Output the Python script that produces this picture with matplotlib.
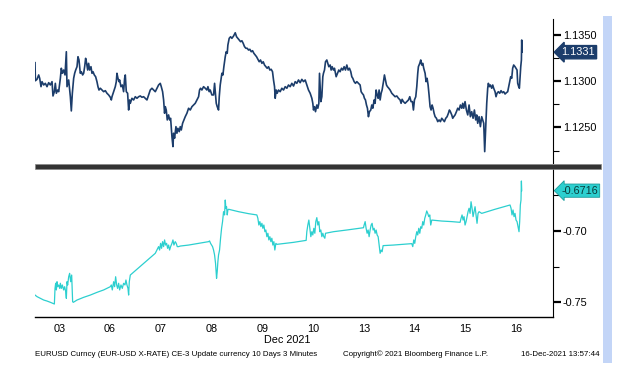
import numpy as np
import matplotlib
matplotlib.use("Agg")
import matplotlib.pyplot as plt
from matplotlib.patches import Rectangle
from matplotlib.ticker import FixedLocator

# x = trading-day position (tick k sits on day label k), weekends removed
day_labels = ['03', '06', '07', '08', '09', '10', '13', '14', '15', '16']

eur_t = [-0.479, -0.472, -0.440, -0.407, -0.387, -0.361, -0.341, -0.308, -0.276, -0.243,
         -0.210, -0.177, -0.144, -0.125, -0.098, -0.079, -0.059, -0.033, -0.013, 0.020,
         0.039, 0.059, 0.085, 0.112, 0.138, 0.151, 0.184, 0.217, 0.236, 0.256,
         0.282, 0.302, 0.322, 0.348, 0.367, 0.387, 0.413, 0.433, 0.459, 0.479,
         0.499, 0.518, 0.538, 0.558, 0.577, 0.597, 0.623, 0.643, 0.663, 0.689,
         0.715, 0.741, 0.761, 0.781, 0.807, 0.840, 0.873, 0.906, 0.938, 0.971,
         1.004, 1.024, 1.037, 1.070, 1.102, 1.122, 1.135, 1.155, 1.175, 1.188,
         1.214, 1.240, 1.266, 1.286, 1.299, 1.319, 1.345, 1.365, 1.385, 1.398,
         1.430, 1.463, 1.496, 1.529, 1.562, 1.594, 1.627, 1.660, 1.693, 1.726,
         1.759, 1.791, 1.824, 1.857, 1.890, 1.923, 1.955, 1.988, 2.008, 2.034,
         2.054, 2.073, 2.087, 2.106, 2.126, 2.152, 2.172, 2.192, 2.218, 2.238,
         2.251, 2.270, 2.297, 2.316, 2.336, 2.362, 2.382, 2.402, 2.428, 2.454,
         2.480, 2.513, 2.546, 2.579, 2.612, 2.644, 2.677, 2.710, 2.743, 2.762,
         2.782, 2.808, 2.841, 2.874, 2.907, 2.927, 2.953, 2.972, 3.005, 3.038,
         3.058, 3.071, 3.091, 3.110, 3.136, 3.150, 3.169, 3.189, 3.202, 3.222,
         3.241, 3.268, 3.287, 3.307, 3.320, 3.346, 3.373, 3.399, 3.432, 3.465,
         3.491, 3.517, 3.543, 3.570, 3.596, 3.622, 3.648, 3.675, 3.701, 3.727,
         3.753, 3.780, 3.806, 3.832, 3.858, 3.885, 3.911, 3.937, 3.963, 3.990,
         4.016, 4.042, 4.068, 4.094, 4.121, 4.147, 4.173, 4.199, 4.219, 4.239,
         4.252, 4.272, 4.291, 4.318, 4.350, 4.383, 4.416, 4.449, 4.482, 4.514,
         4.547, 4.580, 4.613, 4.646, 4.678, 4.711, 4.744, 4.777, 4.810, 4.843,
         4.875, 4.908, 4.941, 4.974, 4.993, 5.007, 5.026, 5.046, 5.072, 5.092,
         5.112, 5.125, 5.138, 5.151, 5.171, 5.190, 5.203, 5.223, 5.243, 5.269,
         5.289, 5.308, 5.335, 5.354, 5.374, 5.400, 5.420, 5.440, 5.453, 5.479,
         5.505, 5.531, 5.558, 5.584, 5.610, 5.636, 5.663, 5.689, 5.715, 5.741,
         5.761, 5.781, 5.807, 5.833, 5.860, 5.892, 5.925, 5.945, 5.965, 5.991,
         6.010, 6.030, 6.050, 6.069, 6.089, 6.109, 6.135, 6.155, 6.175, 6.201,
         6.220, 6.240, 6.260, 6.280, 6.299, 6.319, 6.339, 6.358, 6.385, 6.404,
         6.424, 6.444, 6.463, 6.490, 6.516, 6.549, 6.581, 6.614, 6.647, 6.680,
         6.713, 6.732, 6.752, 6.778, 6.811, 6.844, 6.877, 6.903, 6.929, 6.955,
         6.975, 6.995, 7.021, 7.041, 7.060, 7.073, 7.100, 7.119, 7.139, 7.159,
         7.178, 7.205, 7.224, 7.244, 7.264, 7.283, 7.303, 7.323, 7.343, 7.362,
         7.382, 7.402, 7.428, 7.454, 7.480, 7.507, 7.533, 7.559, 7.585, 7.612,
         7.638, 7.664, 7.684, 7.703, 7.730, 7.749, 7.769, 7.795, 7.822, 7.848,
         7.874, 7.900, 7.927, 7.946, 7.966, 7.992, 8.018, 8.045, 8.071, 8.097,
         8.123, 8.150, 8.176, 8.202, 8.222, 8.241, 8.268, 8.294, 8.320, 8.340,
         8.360, 8.379, 8.399, 8.419, 8.438, 8.451, 8.471, 8.491, 8.517, 8.537,
         8.556, 8.583, 8.602, 8.622, 8.648, 8.675, 8.701, 8.727, 8.753, 8.780,
         8.806, 8.832, 8.852, 8.871, 8.891, 8.911, 8.930, 8.950, 8.976, 8.996,
         9.016, 9.029, 9.049, 9.062, 9.075, 9.089, 9.102, 9.108, 9.115]

eurusd = [1.13197, 1.13003, 1.13018, 1.13065, 1.13029, 1.12939, 1.12993, 1.12957, 1.12975, 1.12939,
          1.12982, 1.12957, 1.12993, 1.12839, 1.12885, 1.12975, 1.12868, 1.12903, 1.12885, 1.13029,
          1.13137, 1.13083, 1.13118, 1.13065, 1.13315, 1.12939, 1.13011, 1.12831, 1.12678, 1.12868,
          1.13029, 1.13083, 1.13118, 1.13154, 1.13261, 1.13226, 1.13083, 1.13100, 1.13065, 1.13083,
          1.13154, 1.13244, 1.13190, 1.13118, 1.13190, 1.13118, 1.13154, 1.13083, 1.13100, 1.13065,
          1.13046, 1.12993, 1.12939, 1.12903, 1.12922, 1.12903, 1.12885, 1.12896, 1.12868, 1.12850,
          1.12825, 1.12796, 1.12831, 1.12885, 1.12939, 1.12993, 1.13083, 1.13029, 1.12993, 1.13011,
          1.12939, 1.12957, 1.12885, 1.13029, 1.13065, 1.12885, 1.12868, 1.12688, 1.12796, 1.12760,
          1.12814, 1.12796, 1.12831, 1.12814, 1.12831, 1.12839, 1.12825, 1.12831, 1.12814, 1.12796,
          1.12850, 1.12903, 1.12922, 1.12903, 1.12885, 1.12922, 1.12957, 1.12975, 1.12939, 1.12885,
          1.12796, 1.12653, 1.12724, 1.12688, 1.12581, 1.12635, 1.12581, 1.12599, 1.12401, 1.12294,
          1.12438, 1.12384, 1.12509, 1.12438, 1.12491, 1.12455, 1.12509, 1.12473, 1.12545, 1.12581,
          1.12616, 1.12653, 1.12707, 1.12688, 1.12724, 1.12742, 1.12760, 1.12796, 1.12831, 1.12903,
          1.12922, 1.12903, 1.12939, 1.12922, 1.12903, 1.12939, 1.12885, 1.12903, 1.12850, 1.12850,
          1.12975, 1.12885, 1.12760, 1.12724, 1.12688, 1.12831, 1.12957, 1.13029, 1.13083, 1.13065,
          1.13154, 1.13261, 1.13315, 1.13298, 1.13387, 1.13459, 1.13476, 1.13459, 1.13484, 1.13519,
          1.13476, 1.13459, 1.13441, 1.13423, 1.13433, 1.13405, 1.13369, 1.13352, 1.13352, 1.13333,
          1.13341, 1.13315, 1.13326, 1.13298, 1.13280, 1.13261, 1.13233, 1.13207, 1.13226, 1.13190,
          1.13207, 1.13172, 1.13154, 1.13137, 1.13154, 1.13118, 1.13126, 1.13100, 1.13011, 1.12939,
          1.12814, 1.12903, 1.12868, 1.12903, 1.12885, 1.12922, 1.12903, 1.12939, 1.12922, 1.12957,
          1.12939, 1.12975, 1.12946, 1.12993, 1.12975, 1.13011, 1.12982, 1.13018, 1.12993, 1.13011,
          1.12957, 1.12903, 1.12868, 1.12814, 1.12760, 1.12688, 1.12724, 1.12670, 1.12742, 1.12707,
          1.12760, 1.13083, 1.12939, 1.12778, 1.12831, 1.13046, 1.13083, 1.13118, 1.13207, 1.13226,
          1.13190, 1.13154, 1.13172, 1.13118, 1.13154, 1.13118, 1.13137, 1.13083, 1.13046, 1.13083,
          1.13118, 1.13100, 1.13137, 1.13118, 1.13154, 1.13118, 1.13172, 1.13118, 1.13137, 1.13100,
          1.13046, 1.13029, 1.12993, 1.12975, 1.12993, 1.12975, 1.12957, 1.12885, 1.12868, 1.12850,
          1.12814, 1.12796, 1.12742, 1.12707, 1.12616, 1.12670, 1.12688, 1.12742, 1.12707, 1.12796,
          1.12760, 1.12903, 1.12850, 1.12814, 1.12903, 1.12796, 1.12868, 1.12903, 1.12993, 1.13065,
          1.13011, 1.12957, 1.12939, 1.12922, 1.12903, 1.12868, 1.12850, 1.12831, 1.12839, 1.12814,
          1.12796, 1.12760, 1.12803, 1.12778, 1.12760, 1.12778, 1.12796, 1.12831, 1.12778, 1.12778,
          1.12688, 1.12796, 1.12831, 1.12939, 1.13083, 1.13154, 1.13190, 1.13226, 1.13172, 1.13190,
          1.13137, 1.13083, 1.12993, 1.13029, 1.12957, 1.12850, 1.12724, 1.12688, 1.12742, 1.12707,
          1.12653, 1.12616, 1.12599, 1.12563, 1.12581, 1.12563, 1.12599, 1.12581, 1.12563, 1.12599,
          1.12616, 1.12653, 1.12688, 1.12670, 1.12635, 1.12599, 1.12616, 1.12635, 1.12670, 1.12707,
          1.12688, 1.12742, 1.12707, 1.12760, 1.12707, 1.12778, 1.12688, 1.12635, 1.12742, 1.12616,
          1.12670, 1.12599, 1.12688, 1.12581, 1.12635, 1.12545, 1.12616, 1.12509, 1.12616, 1.12581,
          1.12545, 1.12240, 1.12509, 1.12760, 1.12922, 1.12975, 1.12939, 1.12957, 1.12922, 1.12957,
          1.12922, 1.12885, 1.12831, 1.12868, 1.12885, 1.12868, 1.12896, 1.12874, 1.12885, 1.12860,
          1.12874, 1.12885, 1.12939, 1.12993, 1.13046, 1.13029, 1.13137, 1.13172, 1.13154, 1.13137,
          1.13118, 1.12975, 1.12939, 1.12922, 1.13029, 1.13154, 1.13226, 1.13441, 1.13310]

corr_t = [-0.479, -0.440, -0.374, -0.308, -0.243, -0.177, -0.098, -0.085, -0.072, -0.059,
          -0.046, -0.033, -0.013, 0.007, 0.020, 0.039, 0.059, 0.085, 0.105, 0.125,
          0.138, 0.151, 0.164, 0.184, 0.203, 0.223, 0.243, 0.262, 0.276, 0.348,
          0.479, 0.610, 0.741, 0.873, 1.004, 1.024, 1.043, 1.070, 1.089, 1.109,
          1.129, 1.148, 1.168, 1.188, 1.214, 1.240, 1.266, 1.293, 1.312, 1.332,
          1.352, 1.365, 1.378, 1.398, 1.890, 1.923, 1.955, 1.975, 1.995, 2.014,
          2.034, 2.054, 2.073, 2.093, 2.113, 2.133, 2.152, 2.172, 2.192, 2.218,
          2.238, 2.257, 2.283, 2.303, 2.323, 2.349, 2.382, 2.546, 2.743, 2.940,
          2.959, 2.979, 2.999, 3.018, 3.038, 3.058, 3.077, 3.097, 3.110, 3.123,
          3.136, 3.156, 3.176, 3.196, 3.215, 3.235, 3.255, 3.268, 3.281, 3.294,
          3.307, 3.320, 3.333, 3.530, 3.727, 3.891, 3.911, 3.930, 3.950, 3.970,
          3.990, 4.009, 4.029, 4.049, 4.068, 4.088, 4.108, 4.127, 4.147, 4.167,
          4.186, 4.206, 4.226, 4.245, 4.265, 4.285, 4.613, 4.862, 4.875, 4.895,
          4.915, 4.934, 4.954, 4.974, 4.993, 5.013, 5.033, 5.052, 5.072, 5.092,
          5.112, 5.131, 5.151, 5.171, 5.190, 5.210, 5.230, 5.243, 5.400, 5.663,
          5.991, 6.004, 6.024, 6.043, 6.063, 6.083, 6.102, 6.122, 6.142, 6.161,
          6.181, 6.201, 6.220, 6.240, 6.260, 6.280, 6.299, 6.319, 6.339, 6.358,
          6.378, 6.581, 6.942, 6.962, 6.982, 7.001, 7.021, 7.041, 7.060, 7.080,
          7.100, 7.119, 7.139, 7.159, 7.178, 7.198, 7.218, 7.237, 7.257, 7.277,
          7.297, 7.316, 7.336, 7.533, 7.730, 7.894, 7.913, 7.933, 7.953, 7.972,
          7.992, 8.012, 8.031, 8.051, 8.071, 8.091, 8.110, 8.130, 8.150, 8.169,
          8.189, 8.209, 8.228, 8.248, 8.268, 8.320, 8.583, 8.878, 8.898, 8.917,
          8.937, 8.957, 8.976, 8.996, 9.016, 9.035, 9.055, 9.068, 9.081, 9.094,
          9.102, 9.108]

corr = [-0.7451, -0.7462, -0.7474, -0.7486, -0.7493, -0.7502, -0.7514, -0.7404, -0.7368, -0.7415,
        -0.7357, -0.7392, -0.7380, -0.7404, -0.7368, -0.7404, -0.7380, -0.7415, -0.7392, -0.7427,
        -0.7474, -0.7357, -0.7380, -0.7322, -0.7298, -0.7357, -0.7310, -0.7498, -0.7502, -0.7486,
        -0.7467, -0.7451, -0.7432, -0.7415, -0.7392, -0.7380, -0.7415, -0.7357, -0.7392, -0.7322,
        -0.7380, -0.7404, -0.7368, -0.7415, -0.7380, -0.7404, -0.7368, -0.7380, -0.7345, -0.7380,
        -0.7404, -0.7451, -0.7357, -0.7310, -0.7157, -0.7134, -0.7110, -0.7134, -0.7087, -0.7122,
        -0.7075, -0.7110, -0.7063, -0.7099, -0.7087, -0.7122, -0.7099, -0.7134, -0.7110, -0.7087,
        -0.7063, -0.7099, -0.7075, -0.7087, -0.7110, -0.7110, -0.7106, -0.7099, -0.7087, -0.7075,
        -0.7070, -0.7087, -0.7099, -0.7110, -0.7134, -0.7169, -0.7228, -0.7333, -0.7286, -0.7216,
        -0.7169, -0.7134, -0.7051, -0.6981, -0.6934, -0.6864, -0.6887, -0.6782, -0.6840, -0.6829,
        -0.6887, -0.6852, -0.6847, -0.6864, -0.6878, -0.6887, -0.6911, -0.6958, -0.6934, -0.6969,
        -0.6946, -0.6981, -0.6958, -0.7005, -0.6993, -0.7040, -0.7016, -0.7063, -0.7040, -0.7075,
        -0.7051, -0.7099, -0.7075, -0.7134, -0.7087, -0.7094, -0.7080, -0.7066, -0.7005, -0.6958,
        -0.6923, -0.6981, -0.7040, -0.7005, -0.7028, -0.6981, -0.7016, -0.6934, -0.6906, -0.6958,
        -0.6934, -0.7005, -0.6993, -0.7040, -0.7016, -0.7040, -0.7051, -0.7016, -0.7005, -0.6993,
        -0.6977, -0.6958, -0.6934, -0.6981, -0.7016, -0.6993, -0.7040, -0.6993, -0.6958, -0.6946,
        -0.6993, -0.6981, -0.7016, -0.6993, -0.7028, -0.7040, -0.7099, -0.7157, -0.7134, -0.7146,
        -0.7103, -0.7099, -0.7089, -0.7110, -0.7063, -0.7087, -0.7040, -0.7005, -0.7028, -0.6981,
        -0.7016, -0.6970, -0.6981, -0.6934, -0.6958, -0.6911, -0.6887, -0.6859, -0.6876, -0.6899,
        -0.6887, -0.6958, -0.6923, -0.6930, -0.6934, -0.6939, -0.6911, -0.6887, -0.6923, -0.6899,
        -0.6958, -0.6934, -0.6899, -0.6864, -0.6840, -0.6876, -0.6794, -0.6840, -0.6899, -0.6864,
        -0.6829, -0.6887, -0.6946, -0.6876, -0.6864, -0.6876, -0.6847, -0.6817, -0.6840, -0.6887,
        -0.6852, -0.6899, -0.6876, -0.6923, -0.6934, -0.6970, -0.7005, -0.6934, -0.6817, -0.6782,
        -0.6648, -0.6716]

navy = '#1c3d6b'
cyan = '#2ccfcf'
plt.rcParams['font.family'] = ['Liberation Sans', 'DejaVu Sans']

fig = plt.figure(figsize=(6.37, 3.80), dpi=100)
ax1 = fig.add_axes([0.0549, 0.5711, 0.8132, 0.3789])
ax2 = fig.add_axes([0.0549, 0.1658, 0.8132, 0.3895])

ax1.plot(eur_t, eurusd, color=navy, lw=1.2)
ax2.plot(corr_t, corr, color=cyan, lw=0.9)

for ax in (ax1, ax2):
    ax.set_xlim(-0.48, 9.724)
    for s in ('left', 'top'):
        ax.spines[s].set_visible(False)
    ax.spines['right'].set_color('black')
    ax.yaxis.tick_right()
    ax.tick_params(axis='y', which='major', direction='out', length=6, width=1.6,
                   labelsize=7.8, pad=1, colors='black')
    ax.tick_params(axis='y', which='minor', direction='out', length=4, width=0.8)

ax1.spines['bottom'].set_visible(False)
ax1.set_ylim(1.12118, 1.13667)
ax1.set_yticks([1.1250, 1.1300, 1.1350])
ax1.set_yticklabels(['1.1250', '1.1300', '1.1350'])
ax1.yaxis.set_minor_locator(FixedLocator([1.1225, 1.1275, 1.1325]))
ax1.set_xticks([])

ax2.set_ylim(-0.76054, -0.65635)
ax2.set_yticks([-0.75, -0.70])
ax2.set_yticklabels(['-0.75', '-0.70'])
ax2.yaxis.set_minor_locator(FixedLocator([-0.725, -0.675]))
ax2.set_xticks(range(len(day_labels)))
ax2.set_xticklabels(day_labels)
ax2.tick_params(axis='x', length=0, labelsize=7.8, pad=5)
ax2.spines['bottom'].set_linewidth(1.0)

# last value tags
ax1.annotate('1.1331', xy=(1.0, eurusd[-1]), xycoords=('axes fraction', 'data'),
             xytext=(6, 0), textcoords='offset points', va='center', ha='left',
             fontsize=7.8, color='white',
             bbox=dict(boxstyle='larrow,pad=0.15', fc=navy, ec=navy))
ax2.annotate('-0.6716', xy=(1.0, corr[-1]), xycoords=('axes fraction', 'data'),
             xytext=(6, 0), textcoords='offset points', va='center', ha='left',
             fontsize=7.8, color='#0a3a3a',
             bbox=dict(boxstyle='larrow,pad=0.15', fc=cyan, ec='#1a9a9a', lw=0.6))

# panel divider and side strip
fig.patches.append(Rectangle((35 / 637, 1 - 169 / 380), 566 / 637, 4.5 / 380,
                             transform=fig.transFigure, fc='#333333', ec='#888888', lw=0.5))
fig.patches.append(Rectangle((603 / 637, 1 - 363 / 380), 9 / 637, 347 / 380,
                             transform=fig.transFigure, fc='#c3d5f7', ec='none'))

fig.text(287 / 637, 1 - 340 / 380, 'Dec 2021', ha='center', va='center', fontsize=7.8)
fig.text(35 / 637, 1 - 354 / 380, 'EURUSD Curncy (EUR-USD X-RATE) CE-3 Update currency 10 Days 3 Minutes',
         ha='left', va='center', fontsize=5.7)
fig.text(343 / 637, 1 - 354 / 380, 'Copyright\u00a9 2021 Bloomberg Finance L.P.',
         ha='left', va='center', fontsize=5.7)
fig.text(600 / 637, 1 - 354 / 380, '16-Dec-2021 13:57:44',
         ha='right', va='center', fontsize=5.7)

fig.savefig('out.png', dpi=100)
